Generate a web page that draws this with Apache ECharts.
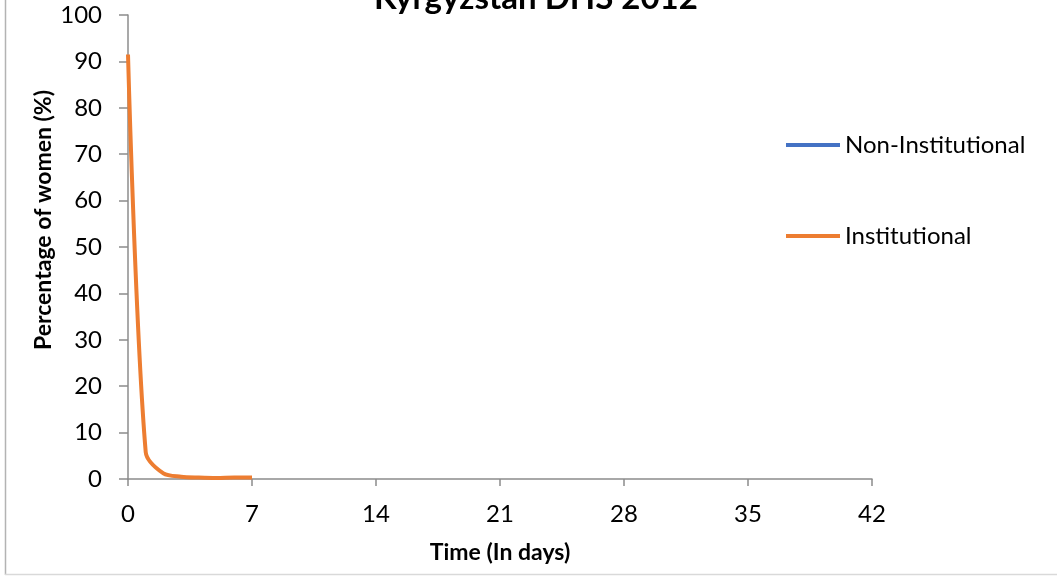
<!DOCTYPE html>
<html lang="en">
<head>
    <meta charset="UTF-8">
    <title>Kyrgyzstan DHS 2012</title>
    <script src="https://cdn.jsdelivr.net/npm/echarts@6/dist/echarts.min.js"></script>
    <style>
        html, body { margin: 0; padding: 0; background: #fff; }
        .box { width: 1057px; height: 576px; }
    </style>
</head>
<body>
    <div class="box"></div>
</body>
<script>
 // 天数 / 百分比
 let days = [0, 1, 2, 3, 4, 5, 6, 7]
 let institutional = [91.5, 5.8, 1.2, 0.5, 0.3, 0.2, 0.3, 0.3]
 let nonInstitutional = [] // 图里看不到这条线
 let xTicks = [0, 7, 14, 21, 28, 35, 42]
 let yTicks = [0, 10, 20, 30, 40, 50, 60, 70, 80, 90, 100]

 let font = 'Lato, "Open Sans", sans-serif'
 let chart = echarts.init(document.querySelector('.box'))
 let option = {
    animation: false,
    title: {
        text: 'Kyrgyzstan DHS 2012',
        left: 531,
        textAlign: 'center',
        top: -23,
        textStyle: { fontFamily: font, fontWeight: 'bold', fontSize: 33, color: '#000' }
    },
    grid: { left: 128, right: 185, top: 15, bottom: 97 },
    legend: {
        orient: 'vertical',
        left: 786,
        top: 133,
        padding: 0,
        itemWidth: 54,
        itemHeight: 4,
        itemGap: 67,
        icon: 'rect',
        textStyle: { fontFamily: font, fontSize: 24, color: '#000', padding: [0, 0, 0, 0] },
        data: ['Non-Institutional', 'Institutional']
    },
    xAxis: {
        type: 'value',
        min: xTicks[0],
        max: xTicks[xTicks.length - 1],
        interval: 7,
        name: 'Time (In days)',
        nameLocation: 'middle',
        nameGap: 62,
        nameTextStyle: { fontFamily: font, fontWeight: 'bold', fontSize: 23, color: '#000' },
        axisLine: { lineStyle: { color: '#8c8c8c', width: 1.5 } },
        axisTick: { show: true, length: 7, lineStyle: { color: '#8c8c8c', width: 1.5 } },
        axisLabel: { fontFamily: font, fontSize: 24, color: '#000', margin: 23 },
        splitLine: { show: false }
    },
    yAxis: {
        type: 'value',
        min: yTicks[0],
        max: yTicks[yTicks.length - 1],
        interval: 10,
        axisLine: { show: true, lineStyle: { color: '#8c8c8c', width: 1.5 } },
        axisTick: { show: true, length: 9, lineStyle: { color: '#8c8c8c', width: 1.5 } },
        axisLabel: { fontFamily: font, fontSize: 24, color: '#000', margin: 26 },
        splitLine: { show: false }
    },
    graphic: [
        // y轴标题 (比轴中点偏上一点)
        {
            type: 'text', x: 44, y: 220, rotation: Math.PI / 2,
            style: {
                text: 'Percentage of women (%)', fontFamily: font, fontWeight: 'bold', fontSize: 23,
                fill: '#000', textAlign: 'center', textVerticalAlign: 'middle'
            }
        },
        { type: 'line', shape: { x1: 5.5, y1: 0, x2: 5.5, y2: 575 }, style: { stroke: '#b3b3b3', lineWidth: 1.5 } },
        { type: 'line', shape: { x1: 5, y1: 574.5, x2: 1057, y2: 574.5 }, style: { stroke: '#d9d9d9', lineWidth: 1.5 } }
    ],
    series: [
        {
            name: 'Non-Institutional',
            type: 'line',
            data: nonInstitutional.map((v, i) => [days[i], v]),
            showSymbol: false,
            lineStyle: { color: '#4472C4', width: 4 },
            itemStyle: { color: '#4472C4' }
        },
        {
            name: 'Institutional',
            type: 'line',
            data: institutional.map((v, i) => [days[i], v]),
            smooth: 0.3,
            showSymbol: false,
            lineStyle: { color: '#ED7D31', width: 4 },
            itemStyle: { color: '#ED7D31' }
        }
    ]
 }
 chart.setOption(option)
</script>
</html>
